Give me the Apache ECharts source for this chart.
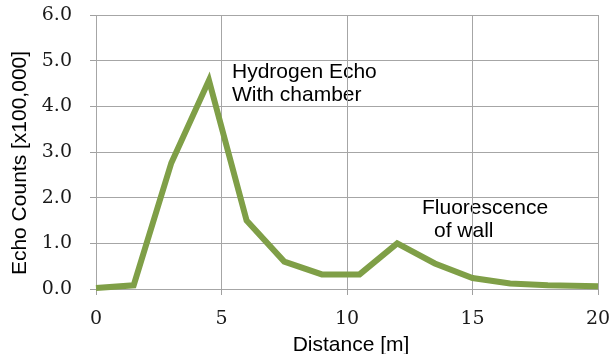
<!DOCTYPE html>
<html><head><meta charset="utf-8">
<script src="https://cdn.jsdelivr.net/npm/echarts@6/dist/echarts.min.js"></script>
<style>html,body{margin:0;padding:0;background:#fff}#c{width:615px;height:354px}</style>
</head><body><div id="c"></div>
<script>
const distance = [0, 1.5, 3, 4.5, 6, 7.5, 9, 10.5, 12, 13.5, 15, 16.5, 18, 20];
const echoCounts = [0.02, 0.08, 2.76, 4.57, 1.5, 0.6, 0.32, 0.32, 1.0, 0.56, 0.24, 0.12, 0.08, 0.06];
const xTicks = [0, 5, 10, 15, 20];
const yTicks = [0, 1, 2, 3, 4, 5, 6];
const annotations = ["Hydrogen Echo", "With chamber", "Fluorescence", "of wall"];

const chart = echarts.init(document.getElementById('c'), null, {renderer: 'canvas'});
const serif = "'DejaVu Serif', 'Liberation Serif', serif";
const sans = "'Liberation Sans', Arial, sans-serif";
chart.setOption({
  animation: false,
  grid: {left: 96, right: 17, top: 15, bottom: 65, containLabel: false, outerBoundsMode: 'none'},
  xAxis: {
    type: 'value', min: xTicks[0], max: xTicks[xTicks.length-1], interval: 5,
    name: 'Distance [m]', nameLocation: 'middle', nameGap: 46,
    nameTextStyle: {fontFamily: sans, fontSize: 21, color: '#000', padding: [0, 0, 0, 8]},
    axisLine: {show: false},
    axisTick: {show: true, length: 6, lineStyle: {color: '#a0a0a0', width: 1}},
    axisLabel: {fontFamily: serif, fontSize: 19, color: '#1a1a1a', margin: 21},
    splitLine: {show: true, lineStyle: {color: '#a6a6a6', width: 1}}
  },
  yAxis: {
    type: 'value', min: yTicks[0], max: yTicks[yTicks.length-1], interval: 1,
    name: 'Echo Counts [x100,000]', nameLocation: 'middle', nameGap: 62,
    nameTextStyle: {fontFamily: sans, fontSize: 21, color: '#000', padding: [0, 22, 0, 0]},
    axisLine: {show: false},
    axisTick: {show: true, length: 6, lineStyle: {color: '#a0a0a0', width: 1}},
    axisLabel: {fontFamily: serif, fontSize: 19, color: '#1a1a1a', margin: 24,
      formatter: v => v.toFixed(1)},
    splitLine: {show: true, lineStyle: {color: '#a6a6a6', width: 1}}
  },
  series: [{
    type: 'line', data: distance.map((d, i) => [d, echoCounts[i]]),
    showSymbol: false, symbol: 'none',
    lineStyle: {color: '#7f9f47', width: 6, join: 'miter'},
    z: 5
  }],
  graphic: [
    {type: 'text', left: 232, top: 61, style: {text: annotations[0] + '\n' + annotations[1], font: '21px ' + sans, fill: '#000', lineHeight: 23}},
    {type: 'text', left: 422, top: 198, style: {text: annotations[2], font: '21px ' + sans, fill: '#000'}},
    {type: 'text', left: 434, top: 221, style: {text: annotations[3], font: '21px ' + sans, fill: '#000'}}
  ]
});
</script></body></html>
